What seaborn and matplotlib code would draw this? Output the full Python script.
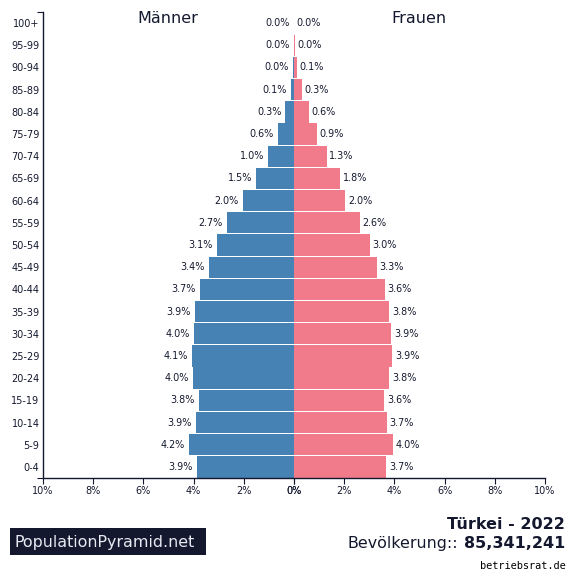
import matplotlib
matplotlib.use('Agg')
import matplotlib.pyplot as plt
from matplotlib.patches import Rectangle
import pandas as pd
import seaborn as sns

ages = ['100+', '95-99', '90-94', '85-89', '80-84', '75-79', '70-74', '65-69', '60-64', '55-59', '50-54',
        '45-49', '40-44', '35-39', '30-34', '25-29', '20-24', '15-19', '10-14', '5-9', '0-4']
male = [0.002, 0.01, 0.04, 0.13, 0.34, 0.64, 1.03, 1.51, 2.03, 2.67, 3.07,
        3.39, 3.74, 3.94, 3.98, 4.06, 4.02, 3.78, 3.9, 4.18, 3.87]
female = [0.002, 0.02, 0.12, 0.3, 0.6, 0.92, 1.3, 1.82, 2.04, 2.62, 3.02,
          3.3, 3.62, 3.8, 3.88, 3.92, 3.8, 3.6, 3.7, 3.95, 3.67]
male_labels = ['0.0%', '0.0%', '0.0%', '0.1%', '0.3%', '0.6%', '1.0%', '1.5%', '2.0%', '2.7%', '3.1%',
               '3.4%', '3.7%', '3.9%', '4.0%', '4.1%', '4.0%', '3.8%', '3.9%', '4.2%', '3.9%']
female_labels = ['0.0%', '0.0%', '0.1%', '0.3%', '0.6%', '0.9%', '1.3%', '1.8%', '2.0%', '2.6%', '3.0%',
                 '3.3%', '3.6%', '3.8%', '3.9%', '3.9%', '3.8%', '3.6%', '3.7%', '4.0%', '3.7%']
ticks = [0, 2, 4, 6, 8, 10]

DARK = '#14182e'
BLUE = '#4682b4'
PINK = '#f27b8b'
W, H = 575, 581

sns.set_theme(style='white', rc={'axes.edgecolor': DARK, 'text.color': DARK, 'xtick.color': DARK,
                                 'ytick.color': DARK, 'axes.linewidth': 1.0})
df = pd.DataFrame({'age': ages, 'male': male, 'female': female})

fig = plt.figure(figsize=(W / 100, H / 100), dpi=100)
ax_m = fig.add_axes([43 / W, 1 - 478 / H, 251 / W, 466 / H])
ax_f = fig.add_axes([294 / W, 1 - 478 / H, 251 / W, 466 / H])

sns.barplot(data=df, y='age', x='male', order=ages, color=BLUE, saturation=1, width=0.96,
            linewidth=0, ax=ax_m)
sns.barplot(data=df, y='age', x='female', order=ages, color=PINK, saturation=1, width=0.96,
            linewidth=0, ax=ax_f)

ax_m.set_xlim(10, 0)
ax_f.set_xlim(0, 10)
ax_m.bar_label(ax_m.containers[0], labels=male_labels, padding=3, fontsize=6.9, color=DARK)
ax_f.bar_label(ax_f.containers[0], labels=female_labels, padding=2, fontsize=6.9, color=DARK)

for ax in (ax_m, ax_f):
    ax.set_ylim(20.5, -0.5)
    ax.set_xlabel('')
    ax.set_ylabel('')
    ax.set_xticks(ticks)
    ax.set_xticklabels([f'{t}%' for t in ticks])
    ax.tick_params(axis='x', length=4, width=0.8, labelsize=7, pad=2, bottom=True)
    ax.patch.set_alpha(0)
    sns.despine(ax=ax, top=True, right=True, left=True)

# only the two end ticks on the age axis, labels sit right next to the line
ax_m.spines['left'].set_visible(True)
ax_m.set_yticks([-0.5, 20.5], minor=True)
ax_m.tick_params(axis='y', which='minor', length=4.5, width=0.8, left=True)
ax_m.tick_params(axis='y', which='major', length=0, labelsize=7, pad=2.5)
ax_f.tick_params(axis='y', left=False, labelleft=False)

fig.text(168 / W, 1 - 23 / H, 'Männer', fontsize=11.5, ha='center', va='baseline')
fig.text(419 / W, 1 - 23 / H, 'Frauen', fontsize=11.5, ha='center', va='baseline')

fig.add_artist(Rectangle((10 / W, 1 - 555 / H), 196 / W, 27 / H, transform=fig.transFigure,
                         facecolor=DARK, edgecolor='none'))
fig.text(14 / W, 1 - 547 / H, 'PopulationPyramid.net', fontsize=11.4, color='#e8eaf2', va='baseline')
fig.text(565 / W, 1 - 529 / H, 'Türkei - 2022', fontsize=11.5, fontweight='bold', ha='right', va='baseline')
fig.text(565 / W, 1 - 548 / H, '85,341,241', fontsize=11.5, fontweight='bold', ha='right', va='baseline')
fig.text(458 / W, 1 - 548 / H, 'Bevölkerung::', fontsize=11.4, ha='right', va='baseline')
fig.text(566 / W, 1 - 569 / H, 'betriebsrat.de', fontsize=7.4, family='DejaVu Sans Mono', color='black',
         ha='right', va='baseline')

fig.savefig('out.png', dpi=100)
